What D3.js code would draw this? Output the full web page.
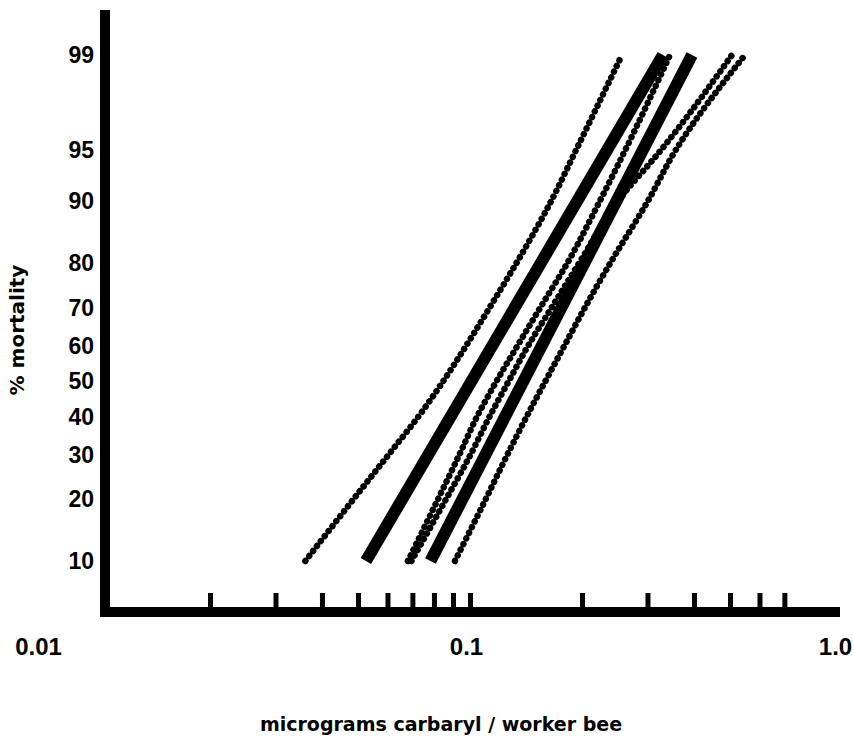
<!DOCTYPE html>
<html>
<head>
<meta charset="utf-8">
<script src="https://cdn.jsdelivr.net/npm/d3@7"></script>
<style>
  body { margin: 0; background: #fff; }
  svg { display: block; font-family: "Liberation Sans", sans-serif; font-weight: bold; }
</style>
</head>
<body>
<svg id="chart" width="854" height="740"></svg>
<script>
// percent mortality levels read along each dotted band
const levels = [10, 20, 30, 40, 50, 60, 70, 80, 90, 95, 99]
const bandOuterLeft  = [0.0361, 0.0486, 0.0604, 0.0726, 0.0847, 0.0976, 0.1128, 0.1332, 0.1650, 0.1925, 0.2562]
const bandInnerLeft  = [0.0681, 0.0820, 0.0936, 0.1044, 0.1178, 0.1341, 0.1544, 0.1825, 0.2230, 0.2610, 0.3448]
const bandInnerRight = [0.0696, 0.0862, 0.1003, 0.1128, 0.1270, 0.1433, 0.1656, 0.1963, 0.2493, 0.3254, 0.5062]
const bandOuterRight = [0.0911, 0.1102, 0.1260, 0.1419, 0.1594, 0.1793, 0.2035, 0.2381, 0.3002, 0.3566, 0.5487]

// the two fitted probit lines (straight on these axes)
const fitLevels = [10, 99]
const fitLeft  = [0.0525, 0.330]
const fitRight = [0.0783, 0.395]

const yTicks = [10, 20, 30, 40, 50, 60, 70, 80, 90, 95, 99]
const xMinor = [0.02, 0.03, 0.04, 0.05, 0.06, 0.07, 0.08, 0.09, 0.1, 0.2, 0.3, 0.4, 0.5, 0.6, 0.7]
const xLabels = [0.01, 0.1, 1.0]

// inverse normal cdf (Abramowitz & Stegun 26.2.23), used for the probit axis
function probit(p) {
    const q = p < 0.5 ? p : 1 - p
    const t = Math.sqrt(-2 * Math.log(q))
    const z = t - (2.515517 + 0.802853 * t + 0.010328 * t * t) /
        (1 + 1.432788 * t + 0.189269 * t * t + 0.001308 * t * t * t)
    return p < 0.5 ? -z : z
}

const svg = d3.select('#chart')

const x = d3.scaleLog().domain([0.01, 1]).range([98, 842])
const yz = d3.scaleLinear().domain([probit(0.10), probit(0.99)]).range([561, 55])
const y = pct => yz(probit(pct / 100))

// axes frame
svg.append('line')
    .attr('x1', 105).attr('x2', 105)
    .attr('y1', 10).attr('y2', 617)
    .attr('stroke', '#000').attr('stroke-width', 10)

const xAxis = svg.append('g')
    .attr('transform', 'translate(0,612)')
    .call(d3.axisBottom(x).tickValues(xMinor).tickSize(-19).tickSizeOuter(0).tickFormat(''))
xAxis.select('.domain').attr('stroke-width', 10).attr('d', `M100,0H${x(1) - 2}`)
xAxis.selectAll('.tick line').attr('stroke-width', 5)

const xLab = svg.append('g')
    .attr('transform', 'translate(0,612)')
    .call(d3.axisBottom(x).tickValues(xLabels).tickSize(0).tickPadding(26)
        .tickFormat(d => d === 1 ? '1.0' : String(d)))
xLab.select('.domain').remove()
xLab.attr('font-family', null).attr('font-size', null)
xLab.selectAll('text')
    .attr('font-size', 24)
    .attr('dx', d => d === 0.01 ? -60 : d === 1 ? -7 : -4)

const yAxis = svg.append('g')
    .attr('transform', 'translate(105,0)')
    .call(d3.axisLeft(yz).tickValues(yTicks.map(p => probit(p / 100)))
        .tickSize(0).tickPadding(11)
        .tickFormat((d, i) => yTicks[i]))
yAxis.select('.domain').remove()
yAxis.attr('font-family', null).attr('font-size', null)
yAxis.selectAll('text').attr('font-size', 23)

// lines
const line = d3.line().x(d => x(d[1])).y(d => y(d[0]))

const bands = [bandOuterLeft, bandInnerLeft, bandInnerRight, bandOuterRight]
svg.append('g').selectAll('path')
    .data(bands.map(b => levels.map((p, i) => [p, b[i]])))
    .join('path')
    .attr('d', d3.line().curve(d3.curveMonotoneY).x(d => x(d[1])).y(d => y(d[0])))
    .attr('fill', 'none')
    .attr('stroke', '#000')
    .attr('stroke-width', 6.5)
    .attr('stroke-linecap', 'round')
    .attr('stroke-dasharray', '0.01 6.3')

svg.append('g').selectAll('path')
    .data([fitLeft, fitRight].map(f => fitLevels.map((p, i) => [p, f[i]])))
    .join('path')
    .attr('d', line)
    .attr('fill', 'none')
    .attr('stroke', '#000')
    .attr('stroke-width', 12)

// titles
svg.append('text')
    .attr('x', 441).attr('y', 731)
    .attr('text-anchor', 'middle')
    .attr('font-size', 19)
    .attr('font-family', 'DejaVu Sans')
    .text('micrograms carbaryl / worker bee')

svg.append('text')
    .attr('transform', 'translate(24,330) rotate(-90)')
    .attr('text-anchor', 'middle')
    .attr('font-size', 20)
    .attr('font-family', 'DejaVu Sans')
    .text('% mortality')
</script>
</body>
</html>
